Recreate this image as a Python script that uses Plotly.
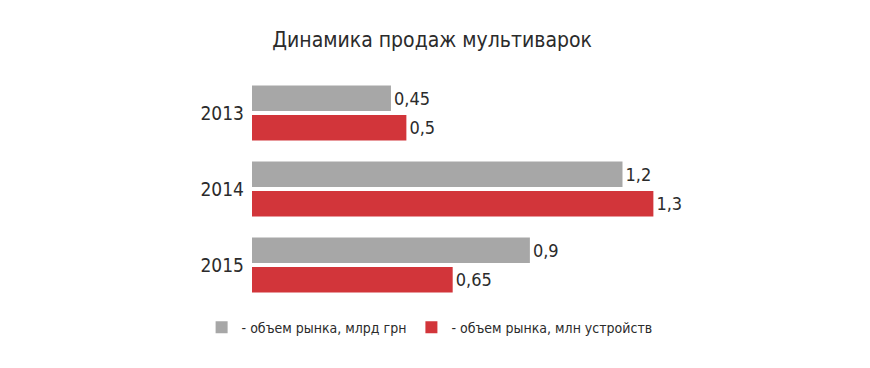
import plotly.graph_objects as go

years = ["2013", "2014", "2015"]
market_uah = [0.45, 1.2, 0.9]
market_units = [0.5, 1.3, 0.65]
series_names = ["- объем рынка, млрд грн", "- объем рынка, млн устройств"]
title_text = "Динамика продаж мультиварок"

FONT = "Liberation Sans Narrow, DejaVu Sans Condensed, Arial Narrow, sans-serif"
GRAY = "#a7a7a7"
RED = "#d2353a"
TXT = "#2b2b2b"


def fmt(v):
    return f"{v:g}".replace(".", ",")


fig = go.Figure()
for name, vals, col in [(series_names[0], market_uah, GRAY), (series_names[1], market_units, RED)]:
    fig.add_trace(go.Bar(
        y=years, x=vals, orientation="h", name=name,
        marker=dict(color=col, line=dict(width=0)),
        text=[fmt(v) for v in vals], textposition="outside",
        textfont=dict(family=FONT, size=18, color=TXT),
        cliponaxis=False, hoverinfo="skip",
    ))

# page body has an 8px margin, so the figure is drawn 8px in from the window edge
fig.update_layout(
    width=862, height=360,
    margin=dict(l=244, r=124, t=67, b=65),
    paper_bgcolor="white", plot_bgcolor="white",
    barmode="group", bargap=0.224, bargroupgap=0.136,
    title=dict(text=title_text, x=0.492, xanchor="center", y=0.911, yanchor="middle",
               font=dict(family=FONT, size=21, color=TXT)),
    xaxis=dict(range=[0, 1.6], visible=False, fixedrange=True, automargin=False),
    yaxis=dict(autorange="reversed", showgrid=False, zeroline=False, showline=False,
               ticks="", ticklabelstandoff=7, automargin=False,
               tickfont=dict(family=FONT, size=19, color=TXT), fixedrange=True),
    legend=dict(orientation="h", x=-0.102, xanchor="left", y=-0.108, yanchor="middle",
                font=dict(family=FONT, size=14, color=TXT), traceorder="normal",
                bgcolor="rgba(0,0,0,0)"),
    showlegend=True,
)

fig.write_html("out.html")
